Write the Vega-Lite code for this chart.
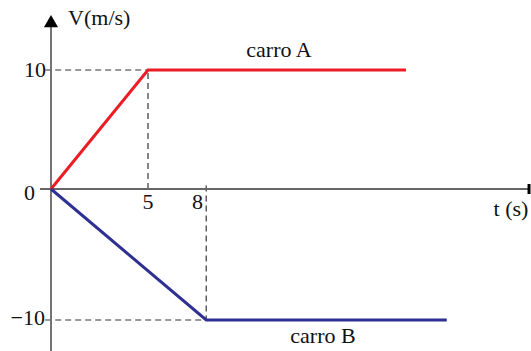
{
  "$schema": "https://vega.github.io/schema/vega-lite/v6.json",
  "width": 531,
  "height": 351,
  "autosize": {"type": "none"},
  "padding": 0,
  "background": "white",
  "config": {"view": {"stroke": null}},
  "datasets": {
    "cars": [
      {"car": "A", "t": 0, "v": 0},
      {"car": "A", "t": 5, "v": 10},
      {"car": "A", "t": 18.3, "v": 10},
      {"car": "B", "t": 0, "v": 0},
      {"car": "B", "t": 8, "v": -10},
      {"car": "B", "t": 20.4, "v": -10}
    ],
    "axes": [
      {"t": -0.57, "v": 0, "t2": 24.64, "v2": 0},
      {"t": 0, "v": -12.4, "t2": 0, "v2": 13.8}
    ],
    "guides": [
      {"t": -0.3, "v": 10, "t2": 5, "v2": 10},
      {"t": 5, "v": 0, "t2": 5, "v2": 10},
      {"t": 8, "v": 0.3, "t2": 8, "v2": -10},
      {"t": -0.3, "v": -10, "t2": 8, "v2": -10}
    ],
    "endmark": [
      {"t": 24.64, "v": 0.42, "t2": 24.64, "v2": -0.38}
    ],
    "arrow": [
      {"t": 0, "v": 14.1}
    ],
    "labelsLeft": [
      {"label": "V(m/s)", "t": 0.88, "v": 14.37}
    ],
    "labelsRight": [
      {"label": "10", "t": -0.26, "v": 10},
      {"label": "0", "t": -0.82, "v": -0.3},
      {"label": "−10", "t": -0.31, "v": -9.85}
    ],
    "labelsCenter": [
      {"label": "5", "t": 5, "v": -1.0},
      {"label": "8", "t": 7.55, "v": -1.0},
      {"label": "t (s)", "t": 23.71, "v": -1.53},
      {"label": "carro A", "t": 11.75, "v": 11.68},
      {"label": "carro B", "t": 14.02, "v": -11.22}
    ]
  },
  "layer": [
    {
      "data": {"name": "guides"},
      "mark": {"type": "rule", "color": "#333333", "strokeWidth": 1.2, "strokeDash": [6, 4]},
      "encoding": {
        "x": {"field": "t", "type": "quantitative", "scale": {"domain": [-2.629, 24.742], "nice": false, "zero": false}, "axis": null},
        "y": {"field": "v", "type": "quantitative", "scale": {"domain": [-10, 0, 10], "range": [320, 189, 70], "nice": false, "zero": false}, "axis": null},
        "x2": {"field": "t2"},
        "y2": {"field": "v2"}
      }
    },
    {
      "data": {"name": "axes"},
      "mark": {"type": "rule", "color": "#666666", "strokeWidth": 1.8},
      "encoding": {
        "x": {"field": "t", "type": "quantitative"},
        "y": {"field": "v", "type": "quantitative"},
        "x2": {"field": "t2"},
        "y2": {"field": "v2"}
      }
    },
    {
      "data": {"name": "endmark"},
      "mark": {"type": "rule", "color": "#000000", "strokeWidth": 3},
      "encoding": {
        "x": {"field": "t", "type": "quantitative"},
        "y": {"field": "v", "type": "quantitative"},
        "x2": {"field": "t2"},
        "y2": {"field": "v2"}
      }
    },
    {
      "data": {"name": "arrow"},
      "mark": {"type": "point", "shape": "triangle-up", "filled": true, "color": "#000000", "size": 200, "opacity": 1},
      "encoding": {
        "x": {"field": "t", "type": "quantitative"},
        "y": {"field": "v", "type": "quantitative"}
      }
    },
    {
      "data": {"name": "cars"},
      "mark": {"type": "line", "strokeWidth": 3},
      "encoding": {
        "x": {"field": "t", "type": "quantitative"},
        "y": {"field": "v", "type": "quantitative"},
        "color": {"field": "car", "type": "nominal", "scale": {"domain": ["A", "B"], "range": ["#ec1c24", "#2e3192"]}, "legend": null}
      }
    },
    {
      "data": {"name": "labelsLeft"},
      "mark": {"type": "text", "font": "Liberation Serif", "fontSize": 22, "baseline": "middle", "align": "left", "color": "#111111"},
      "encoding": {
        "x": {"field": "t", "type": "quantitative"},
        "y": {"field": "v", "type": "quantitative"},
        "text": {"field": "label"}
      }
    },
    {
      "data": {"name": "labelsRight"},
      "mark": {"type": "text", "font": "Liberation Serif", "fontSize": 22, "baseline": "middle", "align": "right", "color": "#111111"},
      "encoding": {
        "x": {"field": "t", "type": "quantitative"},
        "y": {"field": "v", "type": "quantitative"},
        "text": {"field": "label"}
      }
    },
    {
      "data": {"name": "labelsCenter"},
      "mark": {"type": "text", "font": "Liberation Serif", "fontSize": 22, "baseline": "middle", "align": "center", "color": "#111111"},
      "encoding": {
        "x": {"field": "t", "type": "quantitative"},
        "y": {"field": "v", "type": "quantitative"},
        "text": {"field": "label"}
      }
    }
  ]
}
